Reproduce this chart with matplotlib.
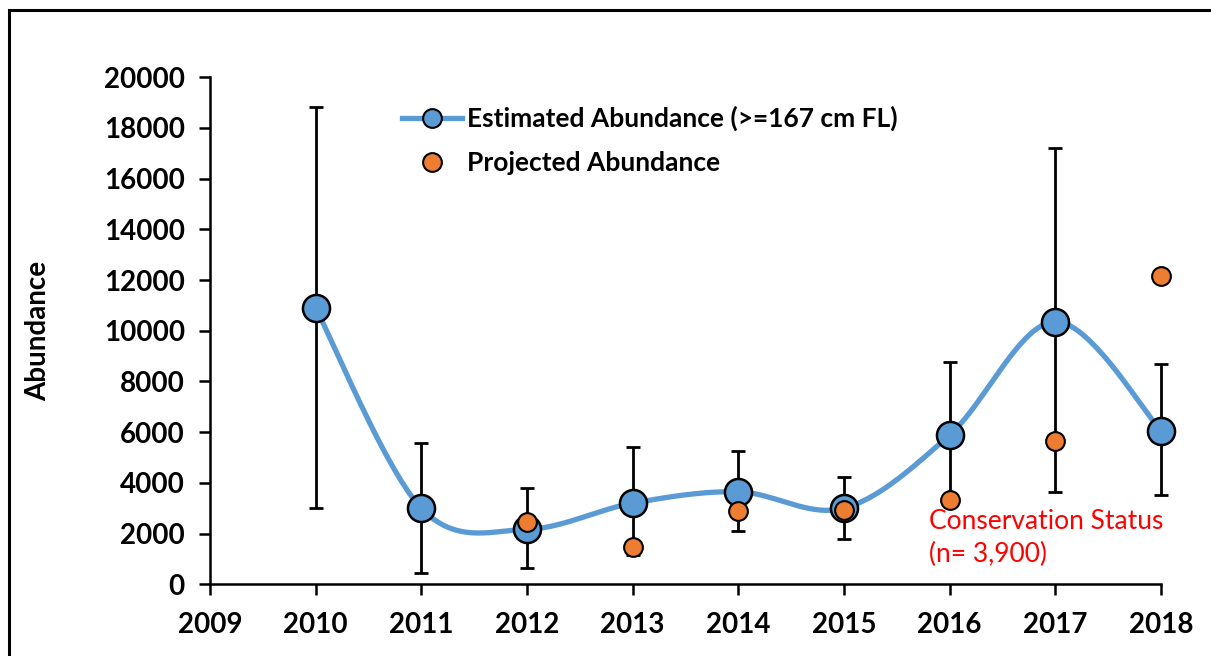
import matplotlib
matplotlib.use("Agg")
import matplotlib.pyplot as plt
import numpy as np
from matplotlib.patches import Rectangle

years = [2010, 2011, 2012, 2013, 2014, 2015, 2016, 2017, 2018]
estimated = [10900, 3000, 2170, 3200, 3650, 3000, 5890, 10360, 6060]
est_upper = [18840, 5570, 3790, 5430, 5260, 4220, 8760, 17220, 8690]
est_lower = [3020, 460, 630, 1155, 2115, 1790, 3100, 3630, 3520]
proj_years = [2012, 2013, 2014, 2015, 2016, 2017, 2018]
projected = [2470, 1460, 2890, 2930, 3325, 5665, 12160]

BLUE = "#5B9BD5"
ORANGE = "#ED7D31"


def smooth_curve(x, y, n=40):
    # Catmull-Rom style bezier segments, like a spreadsheet "smoothed line"
    x = np.asarray(x, float)
    y = np.asarray(y, float)
    px = np.concatenate([[x[0]], x, [x[-1]]])
    py = np.concatenate([[y[0]], y, [y[-1]]])
    xs, ys = [], []
    t = np.linspace(0, 1, n)
    for i in range(1, len(px) - 2):
        p0 = np.array([px[i], py[i]])
        p3 = np.array([px[i + 1], py[i + 1]])
        c1 = p0 + (p3 - np.array([px[i - 1], py[i - 1]])) / 6
        c2 = p3 - (np.array([px[i + 2], py[i + 2]]) - p0) / 6
        b = ((1 - t) ** 3)[:, None] * p0 + (3 * (1 - t) ** 2 * t)[:, None] * c1 \
            + (3 * (1 - t) * t ** 2)[:, None] * c2 + (t ** 3)[:, None] * p3
        xs.append(b[:, 0])
        ys.append(b[:, 1])
    return np.concatenate(xs), np.concatenate(ys)


plt.rcParams["font.family"] = ["Lato", "DejaVu Sans"]

fig = plt.figure(figsize=(12.11, 6.56), dpi=100)
ax = fig.add_axes([0.1734, 0.1093, 0.7853, 0.7729])

# outer frame
fig.patches.append(Rectangle((9 / 1211, -0.1), 1.2, (656 - 10) / 656 + 0.1,
                             transform=fig.transFigure, fill=False,
                             edgecolor="black", linewidth=2.2))

est = np.array(estimated)
yerr = np.vstack([est - np.array(est_lower), np.array(est_upper) - est])
ax.errorbar(years, estimated, yerr=yerr, fmt="none", ecolor="black",
            elinewidth=2.0, capsize=4.8, capthick=2.0, zorder=2)

sx, sy = smooth_curve(years, estimated)
ax.plot(sx, sy, color=BLUE, linewidth=3.8, zorder=3, solid_capstyle="round")
ax.plot(years, estimated, linestyle="none", marker="o", markersize=19.5,
        markerfacecolor=BLUE, markeredgecolor="black", markeredgewidth=1.8,
        zorder=4)
ax.plot(proj_years, projected, linestyle="none", marker="o", markersize=13.5,
        markerfacecolor=ORANGE, markeredgecolor="black", markeredgewidth=1.5,
        zorder=5)

# legend handles
h1, = ax.plot([], [], color=BLUE, linewidth=3.8, marker="o", markersize=13.5,
              markerfacecolor=BLUE, markeredgecolor="black",
              markeredgewidth=1.5)
h2, = ax.plot([], [], linestyle="none", marker="o", markersize=13.5,
              markerfacecolor=ORANGE, markeredgecolor="black",
              markeredgewidth=1.5)
leg = ax.legend([h1, h2], ["Estimated Abundance (>=167 cm FL)",
                           "Projected Abundance"],
                loc="upper left", bbox_to_anchor=(0.177, 0.99), frameon=False,
                prop={"size": 19, "weight": "bold"}, handlelength=2.27,
                handletextpad=0.2, labelspacing=0.75)

ax.text(2015.8, 1830, "Conservation Status\n(n= 3,900)", color="#FF0000",
        fontsize=19, ha="left", va="center", linespacing=1.43)

ax.set_xlim(2009, 2018)
ax.set_ylim(0, 20000)
ax.set_xticks(range(2009, 2019))
ax.set_yticks(range(0, 20001, 2000))
ax.tick_params(axis="both", direction="out", length=8, width=1.8,
               labelsize=20, pad=10)
for lab in ax.get_xticklabels() + ax.get_yticklabels():
    lab.set_fontweight("bold")
ax.tick_params(axis="x", pad=12)
ax.set_ylabel("Abundance", fontsize=20, fontweight="bold", labelpad=38)

for side in ("top", "right"):
    ax.spines[side].set_visible(False)
for side in ("left", "bottom"):
    ax.spines[side].set_linewidth(1.8)
for art in ax.get_children():
    try:
        art.set_clip_on(False)
    except AttributeError:
        pass

fig.savefig("out.png", dpi=100)
